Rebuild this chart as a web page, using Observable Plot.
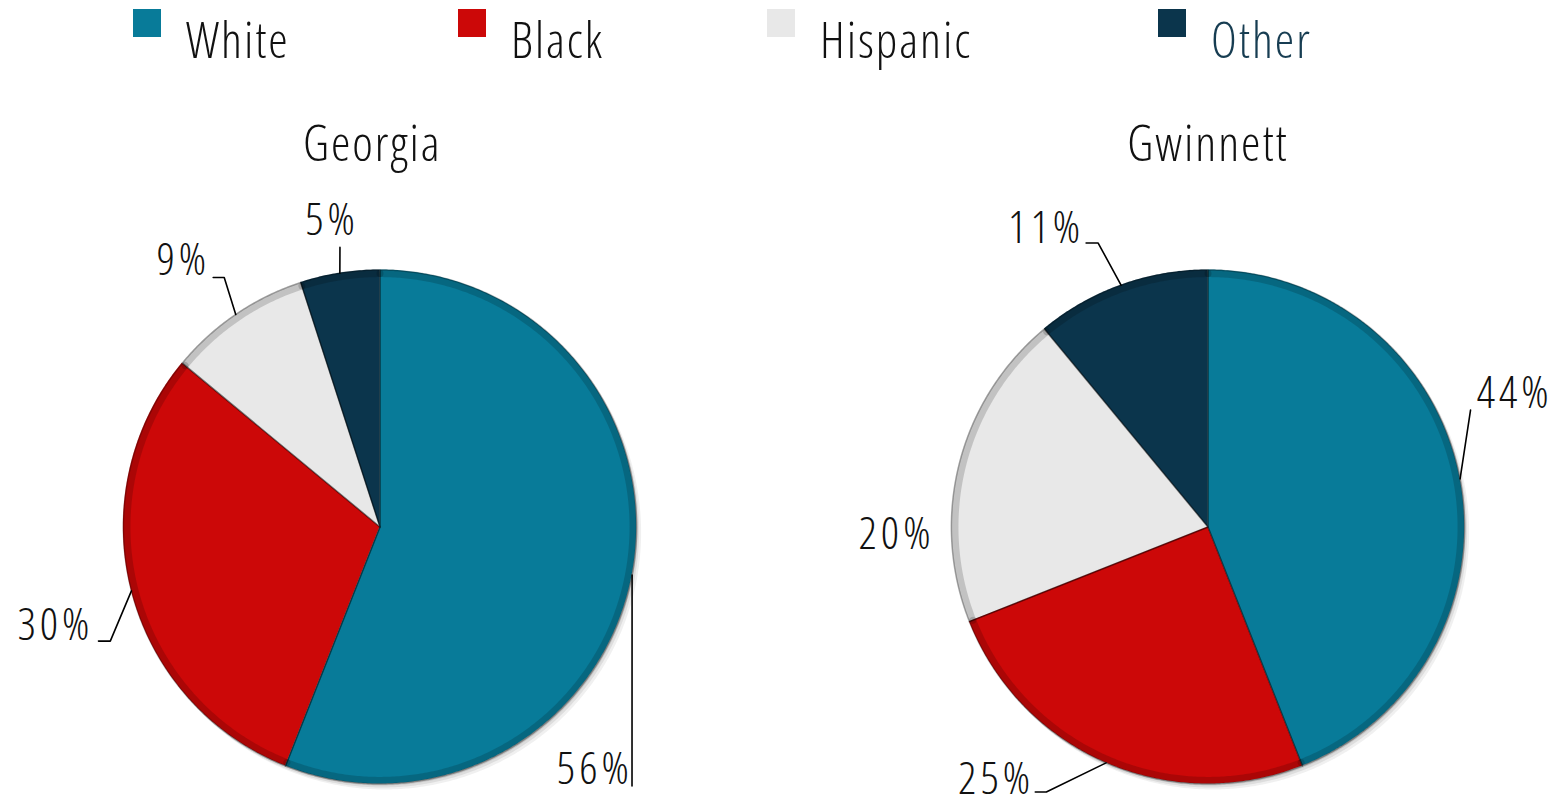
<!DOCTYPE html>
<html>
<head>
<meta charset="utf-8">
<script src="https://cdn.jsdelivr.net/npm/d3@7"></script>
<script src="https://cdn.jsdelivr.net/npm/@observablehq/plot@0.6"></script>
<style>
  html, body { margin: 0; padding: 0; background: #fff; }
  body { width: 1567px; height: 803px; overflow: hidden; position: relative; }
  #legend svg, #chart svg { display: block; }
  svg text { font-stretch: 87.5%; }
  #legend text { letter-spacing: 2px; }
  #chart g[font-size="49"] text { letter-spacing: 2px; }
  #chart g[font-size="45"] text { letter-spacing: 4px; }
</style>
</head>
<body>
<div id="legend"></div>
<div id="chart"></div>
<script>
// ---- data ----
const categories = ["White", "Black", "Hispanic", "Other"];
const regions = ["Georgia", "Gwinnett"];
const georgiaShares = [56, 30, 9, 5];
const gwinnettShares = [44, 25, 20, 11];

// ---- styling ----
const seriesColors = ["#087b99", "#cc0808", "#e8e8e8", "#0b354c"];
const legendTextColors = ["#111", "#111", "#111", "#173d52"];
const legendLeft = [133, 458, 767, 1158];
const FONT = "'Open Sans', Roboto, sans-serif";
const titleShift = {Georgia: -0.03, Gwinnett: 0};

// label placement in pie-radius units relative to each pie centre
const labelPlacement = {
  Georgia: [
    {leader: [[0.982, 1.008]], at: [0.985, 0.944], anchor: "end"},
    {leader: [[-1.051, 0.444], [-1.097, 0.444]], at: [-1.117, 0.383], anchor: "end"},
    {leader: [[-0.607, -0.971], [-0.650, -0.971]], at: [-0.662, -1.037], anchor: "end"},
    {leader: [[-0.156, -1.088]], at: [-0.187, -1.193], anchor: "middle"}
  ],
  Gwinnett: [
    {leader: [[1.023, -0.455]], at: [1.047, -0.521], anchor: "start"},
    {leader: [[-0.630, 1.031], [-0.673, 1.031]], at: [-0.678, 0.982], anchor: "end"},
    {leader: null, at: [-1.214, 0.031], anchor: "middle"},
    {leader: [[-0.428, -1.105], [-0.475, -1.105]], at: [-0.483, -1.163], anchor: "end"}
  ]
};

const sharesByRegion = {Georgia: georgiaShares, Gwinnett: gwinnettShares};

// ---- geometry derived from the data ----
const arcPoints = [];     // outer arc of every slice (area drawn to the pie centre)
const outlinePoints = []; // closed outline of every slice
const rimPoints = [];     // slightly inset arc for the darker rim
const leaderPoints = [];
const labels = [];
for (const region of regions) {
  const shares = sharesByRegion[region];
  const total = d3.sum(shares);
  let acc = 0;
  shares.forEach((v, i) => {
    const a0 = (acc / total) * 2 * Math.PI;
    acc += v;
    const a1 = (acc / total) * 2 * Math.PI;
    const category = categories[i];
    const key = region + "-" + category;
    const n = Math.max(2, Math.ceil((a1 - a0) / (Math.PI / 360)));
    outlinePoints.push({region, category, key, x: 0, y: 0});
    for (let k = 0; k <= n; k++) {
      const a = a0 + (a1 - a0) * k / n;
      const p = {region, category, key, x: Math.sin(a), y: -Math.cos(a)};
      arcPoints.push(p);
      outlinePoints.push(p);
      rimPoints.push({region, category, key, x: 0.986 * Math.sin(a), y: -0.986 * Math.cos(a)});
    }
    outlinePoints.push({region, category, key, x: 0, y: 0});
    const place = labelPlacement[region][i];
    const am = (a0 + a1) / 2;
    if (place.leader) {
      leaderPoints.push({region, key, x: Math.sin(am), y: -Math.cos(am)});
      for (const [lx, ly] of place.leader) leaderPoints.push({region, key, x: lx, y: ly});
    }
    labels.push({region, text: v + "%", x: place.at[0], y: place.at[1], anchor: place.anchor});
  });
}

// ---- legend ----
const legendSvg = d3.select("#legend").append("svg").attr("width", 1567).attr("height", 80);
categories.forEach((c, i) => {
  legendSvg.append("rect").attr("x", legendLeft[i]).attr("y", 9).attr("width", 28).attr("height", 28).attr("fill", seriesColors[i]);
  legendSvg.append("text").attr("x", legendLeft[i] + 53).attr("y", 58)
    .attr("font-family", FONT).attr("font-weight", 300).attr("font-size", 49)
    .attr("fill", legendTextColors[i]).text(c);
});

// ---- chart ----
const R = 257, cy = 446.5, H = 723;
const labelFont = {fontFamily: FONT, fontWeight: 300, fontSize: 45, fill: "#111"};
const sector = (opts) => Plot.area(arcPoints, {fx: "region", x1: "x", y1: "y", x2: () => 0, y2: () => 0, z: "key", ...opts});
const chart = Plot.plot({
  width: 1567,
  height: H,
  marginTop: 0, marginBottom: 0, marginLeft: 29, marginRight: 9,
  style: {background: "transparent", overflow: "visible"},
  fx: {domain: regions, paddingInner: 0.1556, paddingOuter: 0, axis: null},
  x: {domain: [-350 / R, 350 / R], axis: null},
  y: {domain: [-cy / R, (H - cy) / R], reverse: true, axis: null},
  color: {domain: categories, range: seriesColors},
  marks: [
    // soft shadow
    sector({fill: "#000", fillOpacity: 0.06, dx: 5, dy: 6}),
    sector({fill: "#000", fillOpacity: 0.08, dx: 3, dy: 4}),
    sector({fill: "#000", fillOpacity: 0.10, dx: 1.5, dy: 2}),
    // slices
    sector({fill: "category"}),
    // darker rim along the outer arc
    Plot.line(rimPoints, {fx: "region", x: "x", y: "y", z: "key", stroke: "#000", strokeOpacity: 0.16, strokeWidth: 7}),
    // slice outlines
    Plot.line(outlinePoints, {fx: "region", x: "x", y: "y", z: "key", stroke: "#000", strokeOpacity: 0.3, strokeWidth: 1.5, strokeLinejoin: "round"}),
    // leader lines
    Plot.line(leaderPoints, {fx: "region", x: "x", y: "y", z: "key", stroke: "#000", strokeWidth: 1.6}),
    // titles
    Plot.text(regions, {fx: d => d, x: d => titleShift[d], y: () => -1.486, text: d => d, fontFamily: FONT, fontWeight: 300, fontSize: 49, fill: "#111"}),
    // percentage labels
    Plot.text(labels.filter(d => d.anchor === "start"), {fx: "region", x: "x", y: "y", text: "text", textAnchor: "start", ...labelFont}),
    Plot.text(labels.filter(d => d.anchor === "middle"), {fx: "region", x: "x", y: "y", text: "text", textAnchor: "middle", ...labelFont}),
    Plot.text(labels.filter(d => d.anchor === "end"), {fx: "region", x: "x", y: "y", text: "text", textAnchor: "end", ...labelFont})
  ]
});
document.getElementById("chart").appendChild(chart);
</script>
</body>
</html>
